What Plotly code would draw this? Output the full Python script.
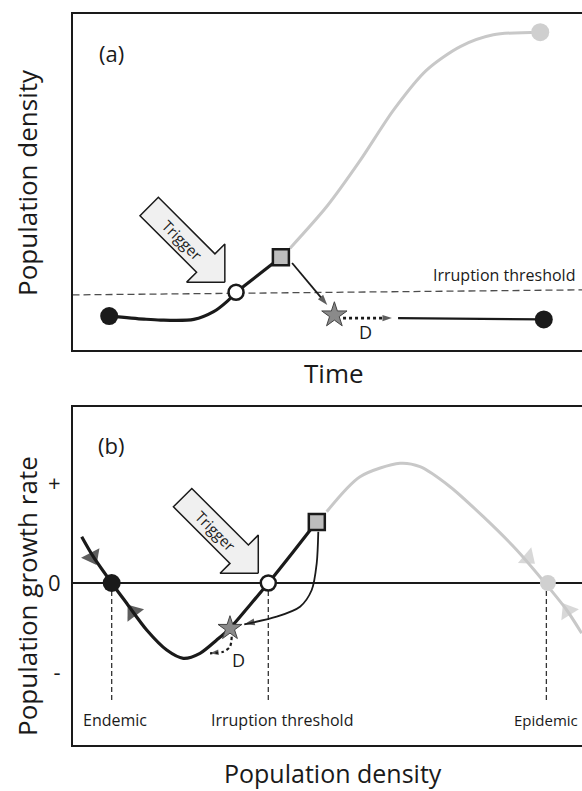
import math
import plotly.graph_objects as go

W, H = 582, 791
FONT = "Open Sans"
INK = "#1a1a1a"
GREY_LINE = "#c8c8c8"

# ---------------- Panel (a): population density over time ----------------
a_endemic_t = [7.2, 14.0, 17.3, 23.8, 27.7, 30.3, 32.1]
a_endemic_n = [10.1, 9.2, 8.9, 9.1, 11.4, 14.4, 17.2]
a_rise_t = [32.1, 40.9]
a_rise_n = [17.2, 27.6]
a_outbreak_t = [42.7, 49.9, 56.5, 63.0, 69.5, 76.1, 82.6, 91.8]
a_outbreak_n = [30.3, 42.7, 56.5, 71.4, 83.3, 90.3, 93.8, 94.6]
a_crash_t = [43.1, 50.0]
a_crash_n = [25.9, 13.4]
a_delay_t = [53.1, 62.7]
a_delay_n = [9.5, 9.5]
a_return_t = [63.9, 92.5]
a_return_n = [9.5, 9.1]
a_threshold_t = [0, 100]
a_threshold_n = [16.4, 17.9]
a_start = (7.2, 10.1)
a_unstable = (32.1, 17.2)
a_peak = (40.9, 27.6)
a_epidemic = (91.8, 94.6)
a_star = (51.4, 10.4)
a_end = (92.5, 9.1)
a_trigger_tip = (29.9, 20.2)

# ---------------- Panel (b): growth rate vs density ----------------
b_low_x = [1.71, 3.99, 7.60, 10.55, 14.48, 18.41, 21.67, 24.95, 28.23, 30.84, 34.77, 38.37, 43.28, 47.88]
b_low_r = [0.463, 0.263, 0.0, -0.203, -0.47, -0.67, -0.753, -0.703, -0.57, -0.453, -0.22, 0.0, 0.313, 0.613]
b_high_x = [49.84, 56.39, 64.24, 68.17, 74.07, 80.61, 87.17, 93.06, 96.99, 99.94]
b_high_r = [0.713, 1.063, 1.197, 1.163, 0.963, 0.663, 0.33, -0.02, -0.27, -0.503]
b_drop_x = [48.19, 47.88, 46.9, 44.6, 40.02, 33.65]
b_drop_r = [0.513, 0.197, -0.07, -0.237, -0.337, -0.413]
b_delay_x = [31.18, 30.84, 29.53, 26.92]
b_delay_r = [-0.537, -0.637, -0.687, -0.703]
b_endemic = (7.6, 0.0)
b_unstable = (38.37, 0.0)
b_peak = (47.9, 0.61)
b_epidemic = (93.3, 0.0)
b_star = (30.84, -0.453)
b_trigger_tip = (36.4, 0.097)
b_guides_x = [7.6, 38.37, 93.0]
b_guide_bottom = -1.2
# direction arrowheads on the curves: (from point, arrowhead point)
b_black_heads = [((1.71, 0.463), (3.8, 0.26)), ((14.48, -0.47), (11.8, -0.29))]
b_grey_heads = [((84.0, 0.48), (89.4, 0.25)), ((99.94, -0.503), (97.2, -0.28))]
b_tickvals = [-0.89, 0.0, 1.0]
b_ticktext = ["-", "0", "+"]

# ---------------- layout geometry ----------------
A_DOM_X = [72.5 / W, 1.0]
A_DOM_Y = [1 - 350 / H, 1 - 14 / H]
B_DOM_X = [73 / W, 1.0]
B_DOM_Y = [1 - 745 / H, 1 - 407 / H]
A_RX, A_RY = [0, 100], [0, 100]
B_RX, B_RY = [0, 100], [-1.62, 1.76]

a_ppx = (A_DOM_X[1] - A_DOM_X[0]) * W / (A_RX[1] - A_RX[0])
a_ppy = (A_DOM_Y[1] - A_DOM_Y[0]) * H / (A_RY[1] - A_RY[0])
b_ppx = (B_DOM_X[1] - B_DOM_X[0]) * W / (B_RX[1] - B_RX[0])
b_ppy = (B_DOM_Y[1] - B_DOM_Y[0]) * H / (B_RY[1] - B_RY[0])


def trigger_shape(tip, ppx, ppy, L=107, h=27, w=27, s=13):
    r2 = 1 / math.sqrt(2)
    d = (r2, r2)
    n = (r2, -r2)
    pts = [(0, 0),
           (-h * d[0] + w * n[0], -h * d[1] + w * n[1]),
           (-h * d[0] + s * n[0], -h * d[1] + s * n[1]),
           (-L * d[0] + s * n[0], -L * d[1] + s * n[1]),
           (-L * d[0] - s * n[0], -L * d[1] - s * n[1]),
           (-h * d[0] - s * n[0], -h * d[1] - s * n[1]),
           (-h * d[0] - w * n[0], -h * d[1] - w * n[1]),
           (0, 0)]
    xs = [tip[0] + p[0] / ppx for p in pts]
    ys = [tip[1] - p[1] / ppy for p in pts]
    label = (tip[0] - 60 * r2 / ppx, tip[1] + 60 * r2 / ppy)
    return xs, ys, label


fig = go.Figure()


def line(x, y, xa, ya, color=INK, width=3.2, dash=None, shape="spline", head=0, headsym="arrow"):
    sizes = [0] * (len(x) - 1) + [head]
    fig.add_trace(go.Scatter(
        x=x, y=y, xaxis=xa, yaxis=ya,
        mode="lines+markers" if head else "lines",
        line=dict(color=color, width=width, dash=dash, shape=shape, smoothing=0.8),
        marker=dict(symbol=headsym, size=sizes, color=color, angleref="previous",
                    line=dict(width=0)),
        hoverinfo="skip"))


def point(p, xa, ya, symbol, size, fill, lc=INK, lw=0):
    fig.add_trace(go.Scatter(
        x=[p[0]], y=[p[1]], xaxis=xa, yaxis=ya, mode="markers",
        marker=dict(symbol=symbol, size=size, color=fill, line=dict(color=lc, width=lw)),
        hoverinfo="skip"))


def heads(pairs, color):
    for (p0, p1) in pairs:
        fig.add_trace(go.Scatter(x=[p0[0], p1[0]], y=[p0[1], p1[1]], xaxis="x2", yaxis="y2",
                                 mode="markers",
                                 marker=dict(symbol="triangle-up", size=[0, 18], color=color,
                                             angleref="previous", line=dict(width=0)),
                                 hoverinfo="skip"))


def trigger(tip, xa, ya, ppx, ppy):
    xs, ys, lab = trigger_shape(tip, ppx, ppy)
    fig.add_trace(go.Scatter(x=xs, y=ys, xaxis=xa, yaxis=ya, mode="lines", fill="toself",
                             fillcolor="#f0f0f0", line=dict(color=INK, width=1.5),
                             hoverinfo="skip"))
    return lab


# ----- panel (a) -----
line(a_threshold_t, a_threshold_n, "x", "y", color="#4d4d4d", width=1.3, dash="7px,4px", shape="linear")
line(a_outbreak_t, a_outbreak_n, "x", "y", color=GREY_LINE, width=3)
line(a_endemic_t, a_endemic_n, "x", "y")
line(a_rise_t, a_rise_n, "x", "y", shape="linear")
line(a_crash_t, a_crash_n, "x", "y", width=1.8, shape="linear", head=11)
line(a_delay_t, a_delay_n, "x", "y", width=2.6, dash="dot", shape="linear", head=10)
line(a_return_t, a_return_n, "x", "y", width=2.2, shape="linear")
a_lab = trigger(a_trigger_tip, "x", "y", a_ppx, a_ppy)
point(a_start, "x", "y", "circle", 18, INK)
point(a_end, "x", "y", "circle", 18, INK)
point(a_epidemic, "x", "y", "circle", 18, "#cfcfcf")
point(a_unstable, "x", "y", "circle", 15, "white", lw=2.5)
point(a_peak, "x", "y", "square", 16, "#bdbdbd", lw=2.5)
point(a_star, "x", "y", "star", 19, "#8a8a8a", lc="#444444", lw=1)

# ----- panel (b) -----
for gx in b_guides_x:
    line([gx, gx], [0, b_guide_bottom], "x2", "y2", color="#333333", width=1.3, dash="5px,3px", shape="linear")
line(b_high_x, b_high_r, "x2", "y2", color=GREY_LINE, width=3)
line(b_low_x, b_low_r, "x2", "y2")
line(b_drop_x, b_drop_r, "x2", "y2", width=1.8, head=11)
line(b_delay_x, b_delay_r, "x2", "y2", width=2.2, dash="dot", head=9)
heads(b_black_heads, INK)
heads(b_grey_heads, GREY_LINE)
b_lab = trigger(b_trigger_tip, "x2", "y2", b_ppx, b_ppy)
point(b_endemic, "x2", "y2", "circle", 18, INK)
point(b_epidemic, "x2", "y2", "circle", 16, "#d0d0d0")
point(b_unstable, "x2", "y2", "circle", 15, "white", lw=2.5)
point(b_peak, "x2", "y2", "square", 16, "#bdbdbd", lw=2.5)
point(b_star, "x2", "y2", "star", 18, "#8a8a8a", lc="#444444", lw=1)


def txt(x, y, s, size, xref="paper", yref="paper", xanchor="center", angle=0, color=INK):
    return dict(x=x, y=y, xref=xref, yref=yref, text=s, showarrow=False, xanchor=xanchor,
                yanchor="middle", textangle=angle, font=dict(family=FONT, size=size, color=color))


annotations = [
    txt(7.6, 88.4, "(a)", 22, "x", "y"),
    txt(99.0, 22.3, "Irruption threshold", 16, "x", "y", xanchor="right"),
    txt(57.6, 5.4, "D", 18, "x", "y"),
    txt(a_lab[0], a_lab[1], "Trigger", 15, "x", "y", angle=45),
    txt(7.5, 1.38, "(b)", 22, "x2", "y2"),
    txt(32.5, -0.77, "D", 18, "x2", "y2"),
    txt(b_lab[0], b_lab[1], "Trigger", 15, "x2", "y2", angle=45),
    txt(8.25, -1.37, "Endemic", 16, "x2", "y2"),
    txt(41.0, -1.37, "Irruption threshold", 16, "x2", "y2"),
    txt(86.2, -1.37, "Epidemic", 15, "x2", "y2", xanchor="left"),
    txt(27 / W, 1 - 183 / H, "Population density", 26, angle=-90),
    txt(334 / W, 1 - 373 / H, "Time", 26),
    txt(27 / W, 1 - 596 / H, "Population growth rate", 26, angle=-90),
    txt(333 / W, 1 - 773 / H, "Population density", 25),
]

frame = dict(showline=True, linewidth=2, linecolor=INK, showgrid=False, zeroline=False,
             ticks="", fixedrange=True)
fig.update_layout(
    width=W, height=H, margin=dict(l=0, r=0, t=0, b=0),
    paper_bgcolor="white", plot_bgcolor="white", showlegend=False,
    xaxis=dict(domain=A_DOM_X, range=A_RX, mirror=True, showticklabels=False, anchor="y", **frame),
    yaxis=dict(domain=A_DOM_Y, range=A_RY, mirror=False, showticklabels=False, anchor="x", **frame),
    xaxis2=dict(domain=B_DOM_X, range=B_RX, mirror=True, showticklabels=False, anchor="y2", **frame),
    yaxis2=dict(domain=B_DOM_Y, range=B_RY, mirror=False, anchor="x2",
                tickvals=b_tickvals, ticktext=b_ticktext, showticklabels=True,
                tickfont=dict(family=FONT, size=22, color=INK), ticklabelstandoff=6,
                **{k: v for k, v in frame.items() if k != "zeroline"},
                zeroline=True, zerolinecolor=INK, zerolinewidth=1.5),
    annotations=annotations,
)

fig.write_html(
    "out.html",
    config={"displayModeBar": False, "staticPlot": True},
    post_script="document.body.style.margin='0';document.body.style.padding='0';"
                "document.body.style.overflow='hidden';",
)
